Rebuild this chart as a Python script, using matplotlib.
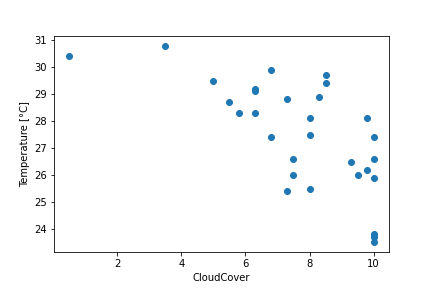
import matplotlib
matplotlib.use('Agg')
import matplotlib.pyplot as plt

# Cloud cover vs. temperature readings
cloud_cover = [0.5, 3.5, 5.0, 5.5, 5.8, 6.3, 6.3, 6.3, 6.8, 6.8,
               7.3, 7.3, 7.5, 7.5, 8.0, 8.0, 8.0, 8.3, 8.5, 8.5,
               9.3, 9.5, 9.8, 9.8, 10.0, 10.0, 10.0, 10.0, 10.0, 10.0]
temperature = [30.4, 30.8, 29.5, 28.7, 28.3, 29.2, 29.1, 28.3, 29.9, 27.4,
               28.8, 25.4, 26.6, 26.0, 28.1, 27.5, 25.5, 28.9, 29.7, 29.4,
               26.5, 26.0, 28.1, 26.2, 27.4, 26.6, 25.9, 23.8, 23.7, 23.5]

fig, ax = plt.subplots(figsize=(6, 4), dpi=72)
fig.subplots_adjust(bottom=0.124, top=0.876)
ax.scatter(cloud_cover, temperature)
ax.set_xlabel('CloudCover')
ax.set_ylabel('Temperature [°C]')

fig.savefig('out.png', dpi=72)
